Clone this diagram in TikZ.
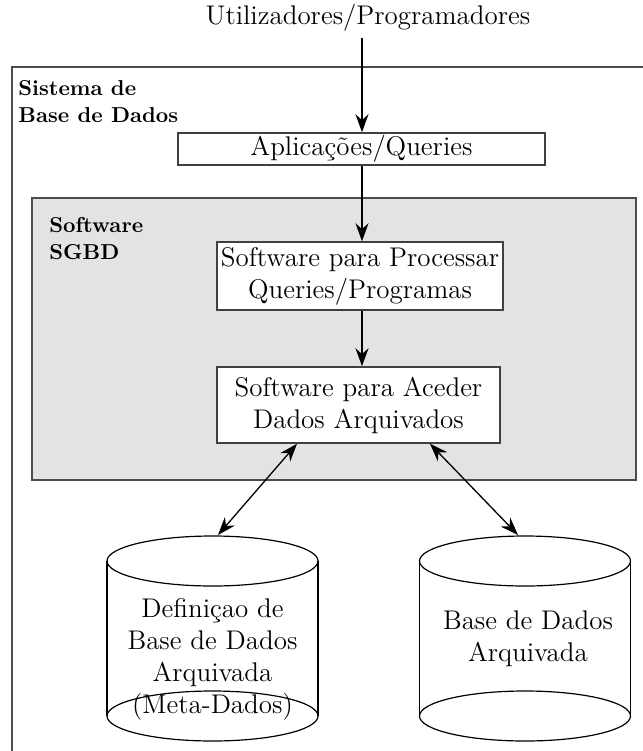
\documentclass[tikz,border=0pt]{standalone}
\usetikzlibrary{arrows.meta}

\begin{document}
\begin{tikzpicture}
  [x=0.5pt,y=-0.5pt,
   every node/.style={font=\fontsize{13.5}{16}\selectfont,align=center,inner sep=0pt},
   box/.style={draw=black!75,line width=0.75pt,fill=white},
   tag/.style={font=\fontsize{10.8}{13.5}\selectfont\bfseries,align=left,anchor=north west},
   flow/.style={line width=0.65pt,-{Stealth[length=9pt,width=6.5pt]}},
   both/.style={line width=0.65pt,{Stealth[length=9pt,width=6.5pt]}-{Stealth[length=9pt,width=6.5pt]}},
   disk/.style={line width=0.6pt}]
  \useasboundingbox (0,0) rectangle (643,751);
  % outer frame and SGBD area
  \draw[black!70,line width=1pt] (643,67) -- (12,67) -- (12,751);
  \filldraw[fill=black!11,draw=black!70,line width=1pt] (32,198) rectangle (636,480);
  \node[tag] (sys) at (18,80) {Sistema de\\Base de Dados};
  \node[tag] (sgbd) at (49,217) {Software\\SGBD};
  \node (users) at (368,18) {Utilizadores/Programadores};
  \coordinate (in) at (362,38);
  \node[box,minimum width=183.5pt,minimum height=16pt] (apps) at (361.5,149) {Aplica\c{c}\~oes/Queries};
  \node[box,minimum width=143pt,minimum height=34pt] (proc) at (360,276) {Software para Processar\\Queries/Programas};
  \node[box,minimum width=141.5pt,minimum height=38pt] (acc) at (358.5,405) {Software para Aceder\\Dados Arquivados};
  % disks
  \foreach \cx in {212.5,525} {
    \draw[disk] (\cx,561) ellipse [x radius=105.5, y radius=25];
    \draw[disk] (\cx,716) ellipse [x radius=105.5, y radius=25];
    \draw[disk] (\cx-105.5,561) -- (\cx-105.5,716) (\cx+105.5,561) -- (\cx+105.5,716);
  }
  \node (meta) at (212.5,659.5) {Defini\c{c}ao de\\Base de Dados\\Arquivada\\(Meta-Dados)};
  \node (data) at (528,638.5) {Base de Dados\\Arquivada};
  \coordinate (metatop) at (218,535);
  \coordinate (datatop) at (518,535);
  % arrows
  \draw[flow] (in) -- (in |- apps.north);
  \draw[flow] (in |- apps.south) -- (in |- proc.north);
  \draw[flow] (in |- proc.south) -- (in |- acc.north);
  \draw[both] ([xshift=-30.75pt]acc.south) -- (metatop);
  \draw[both] ([xshift=35.75pt]acc.south) -- (datatop);
\end{tikzpicture}
\end{document}
